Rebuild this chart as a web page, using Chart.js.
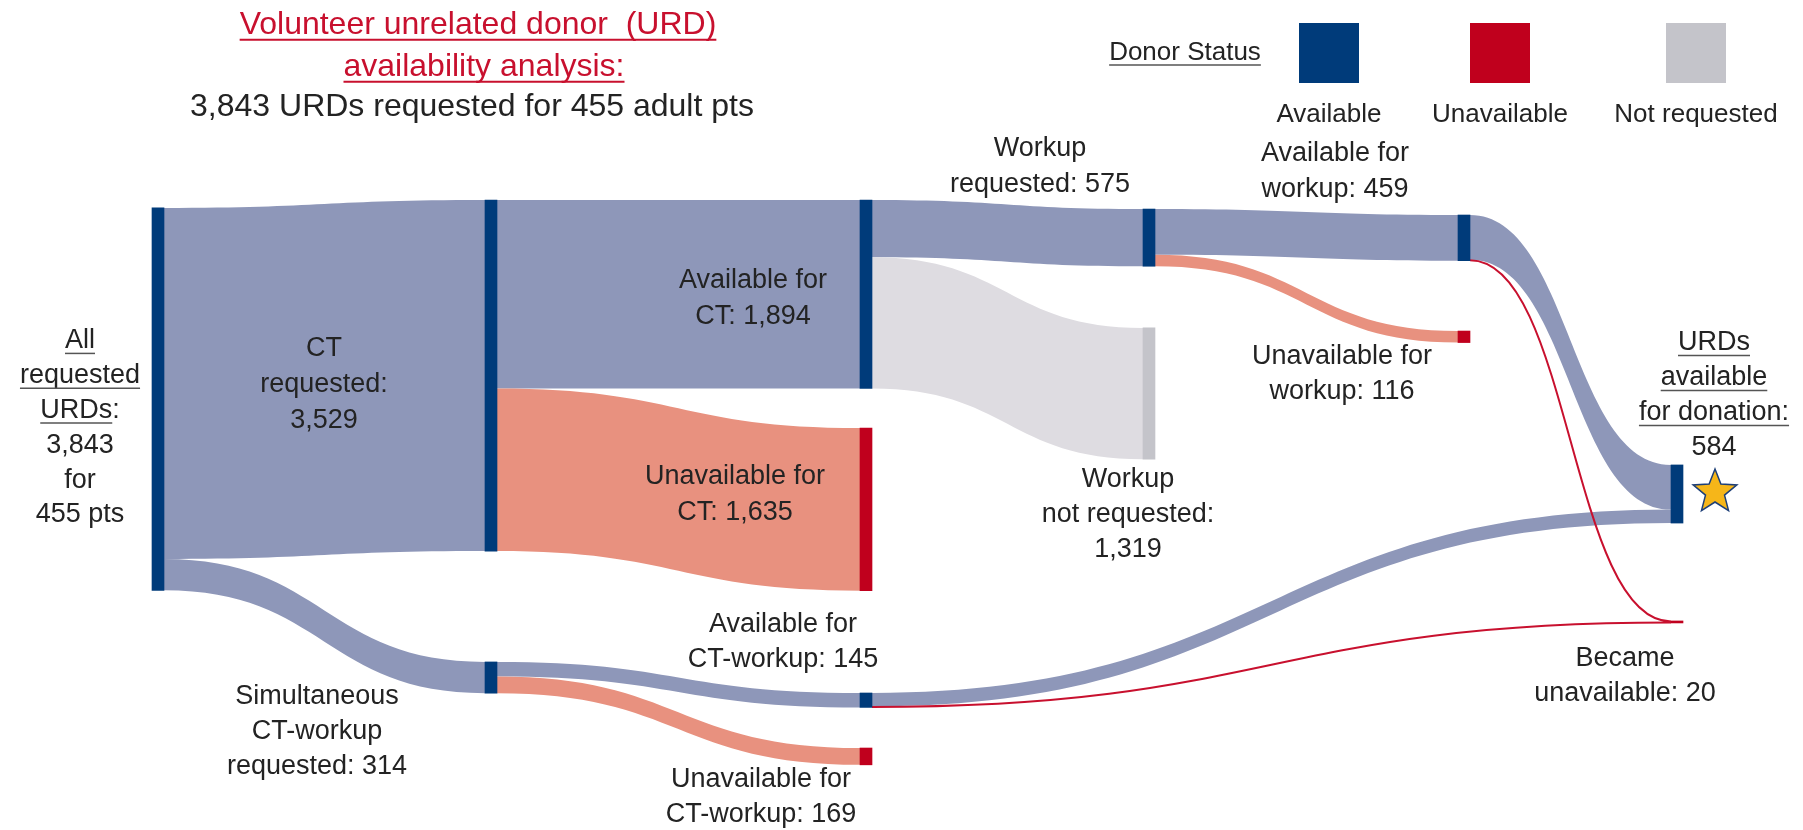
<!DOCTYPE html>
<html>
<head>
<meta charset="utf-8">
<script src="https://cdn.jsdelivr.net/npm/chart.js@4.4.0/dist/chart.umd.min.js"></script>
<style>
    html, body { margin: 0; padding: 0; background: #fff; }
</style>
</head>
<body>
<canvas id="urdSankey" width="1803" height="830"></canvas>
<script>
// nodes of the donor flow
const nodeNames = ['All requested URDs', 'CT requested', 'Simultaneous CT-workup requested',
    'Available for CT', 'Unavailable for CT', 'Available for CT-workup', 'Unavailable for CT-workup',
    'Workup requested', 'Workup not requested', 'Available for workup', 'Unavailable for workup',
    'URDs available for donation', 'Became unavailable'];
const nodeStatus = ['available', 'available', 'available', 'available', 'unavailable', 'available', 'unavailable',
    'available', 'notRequested', 'available', 'unavailable', 'available', 'unavailable'];

// flows between nodes (index into nodeNames)
const flowFrom = [0, 0, 1, 1, 2, 2, 3, 3, 7, 7, 9, 9, 5, 5];
const flowTo = [1, 2, 3, 4, 5, 6, 7, 8, 9, 10, 11, 12, 11, 12];
const flowValues = [3529, 314, 1894, 1635, 145, 169, 575, 1319, 459, 116, 449, 10, 135, 10];

const patientCount = 455;
const legendLabels = ['Available', 'Unavailable', 'Not requested'];
const legendStatus = ['available', 'unavailable', 'notRequested'];

// layout: column of each node and where the node starts on the (donor count) y axis
const nodeColumn = [0, 1, 1, 2, 2, 2, 2, 3, 3, 4, 4, 5, 5];
const columnX = [158, 491, 866, 1149, 1464, 1677];
const nodeTop = [2090, 2010, 6653, 2010, 4302, 6965, 7518, 2101, 3296, 2161, 3327, 4673, 6241];

const FONT = "'Liberation Sans', Arial, Helvetica, sans-serif";
const TEXT = '#232323';
const TITLE_RED = '#c8102e';
const UNDERLINE = '#555';

const nodeColor = { available: '#003b7a', unavailable: '#c0001d', notRequested: '#c4c4ca' };
const flowColor = { available: '#8e97b9', unavailable: '#e8917f', notRequested: '#dedce1' };

const fmt = v => v.toLocaleString('en-US');

// node size = larger of inflow / outflow
const nodeValues = nodeNames.map((_, i) => {
    let inSum = 0, outSum = 0;
    flowValues.forEach((v, k) => {
        if (flowTo[k] === i) inSum += v;
        if (flowFrom[k] === i) outSum += v;
    });
    return Math.max(inSum, outSum);
});

const nodeBars = nodeNames.map((_, i) => ({
    x: columnX[nodeColumn[i]],
    y: [nodeTop[i], nodeTop[i] + nodeValues[i]]
}));

// text blocks; _word_ means underlined
const labelBlocks = [
    { x: 80, y: 341, step: 34.8, lines: ['_All_', '_requested_', '_URDs_:', fmt(nodeValues[0]), 'for', patientCount + ' pts'] },
    { x: 324, y: 349, step: 36, lines: ['CT', 'requested:', fmt(nodeValues[1])] },
    { x: 753, y: 281, step: 36, lines: ['Available for', 'CT: ' + fmt(nodeValues[3])] },
    { x: 735, y: 477, step: 36, lines: ['Unavailable for', 'CT: ' + fmt(nodeValues[4])] },
    { x: 317, y: 697, step: 35, lines: ['Simultaneous', 'CT-workup', 'requested: ' + fmt(nodeValues[2])] },
    { x: 783, y: 625, step: 35, lines: ['Available for', 'CT-workup: ' + fmt(nodeValues[5])] },
    { x: 761, y: 780, step: 35, lines: ['Unavailable for', 'CT-workup: ' + fmt(nodeValues[6])] },
    { x: 1040, y: 149, step: 36, lines: ['Workup', 'requested: ' + fmt(nodeValues[7])] },
    { x: 1128, y: 480, step: 35, lines: ['Workup', 'not requested:', fmt(nodeValues[8])] },
    { x: 1335, y: 154, step: 36, lines: ['Available for', 'workup: ' + fmt(nodeValues[9])] },
    { x: 1342, y: 357, step: 35, lines: ['Unavailable for', 'workup: ' + fmt(nodeValues[10])] },
    { x: 1714, y: 343, step: 35, lines: ['_URDs_', '_available_', '_for donation:_', fmt(nodeValues[11])] },
    { x: 1625, y: 659, step: 35, lines: ['Became', 'unavailable: ' + fmt(nodeValues[12])] }
];

function drawLine(ctx, text, cx, cy, size, color, ulColor, ulWidth) {
    const parts = text.split('_');
    ctx.font = size + 'px ' + FONT;
    ctx.textAlign = 'left';
    const total = parts.reduce((s, p) => s + ctx.measureText(p).width, 0);
    let x = cx - total / 2;
    parts.forEach((p, i) => {
        const w = ctx.measureText(p).width;
        ctx.fillStyle = color;
        ctx.fillText(p, x, cy);
        if (i % 2 === 1) {
            ctx.strokeStyle = ulColor;
            ctx.lineWidth = ulWidth;
            ctx.beginPath();
            ctx.moveTo(x, cy + size * 0.46);
            ctx.lineTo(x + w, cy + size * 0.46);
            ctx.stroke();
        }
        x += w;
    });
}

function drawStar(ctx, cx, cy, rOut, rIn) {
    ctx.beginPath();
    for (let i = 0; i < 10; i++) {
        const r = i % 2 === 0 ? rOut : rIn;
        const a = -Math.PI / 2 + i * Math.PI / 5;
        const px = cx + r * Math.cos(a), py = cy + r * Math.sin(a);
        if (i === 0) ctx.moveTo(px, py); else ctx.lineTo(px, py);
    }
    ctx.closePath();
    ctx.fillStyle = '#f6b619';
    ctx.fill();
    ctx.strokeStyle = '#1d3f78';
    ctx.lineWidth = 1.5;
    ctx.stroke();
}

const sankeyFlows = {
    id: 'sankeyFlows',
    beforeDatasetsDraw(chart) {
        const ctx = chart.ctx;
        const yScale = chart.scales.y;
        const bars = chart.getDatasetMeta(0).data;
        const thick = v => Math.abs(yScale.getPixelForValue(v) - yScale.getPixelForValue(0));
        const outOff = bars.map(() => 0);
        const inOff = bars.map(() => 0);
        const lines = [];
        ctx.save();
        flowValues.forEach((v, k) => {
            const s = bars[flowFrom[k]], t = bars[flowTo[k]];
            const h = thick(v);
            const x0 = s.x + s.width / 2, x1 = t.x - t.width / 2;
            const y0 = Math.min(s.y, s.base) + outOff[flowFrom[k]];
            const y1 = Math.min(t.y, t.base) + inOff[flowTo[k]];
            outOff[flowFrom[k]] += h;
            inOff[flowTo[k]] += h;
            const xm = (x0 + x1) / 2;
            if (nodeNames[flowTo[k]] === 'Became unavailable') {
                lines.push({ x0, x1, xm, y0: y0 + h / 2, y1: y1 + h / 2 });
                return;
            }
            ctx.fillStyle = flowColor[nodeStatus[flowTo[k]]];
            ctx.beginPath();
            ctx.moveTo(x0, y0);
            ctx.bezierCurveTo(xm, y0, xm, y1, x1, y1);
            ctx.lineTo(x1, y1 + h);
            ctx.bezierCurveTo(xm, y1 + h, xm, y0 + h, x0, y0 + h);
            ctx.closePath();
            ctx.fill();
        });
        // donors who became unavailable: thin red lines on top
        ctx.strokeStyle = TITLE_RED;
        ctx.lineWidth = 2;
        lines.forEach(l => {
            ctx.beginPath();
            ctx.moveTo(l.x0, l.y0);
            ctx.bezierCurveTo(l.xm, l.y0, l.xm, l.y1, l.x1, l.y1);
            ctx.stroke();
        });
        ctx.restore();
    },
    afterDraw(chart) {
        const ctx = chart.ctx;
        const bars = chart.getDatasetMeta(0).data;
        ctx.save();
        ctx.textBaseline = 'middle';

        // title
        drawLine(ctx, '_Volunteer unrelated donor  (URD)_', 478, 25, 32, TITLE_RED, TITLE_RED, 2);
        drawLine(ctx, '_availability analysis:_', 484, 67, 32, TITLE_RED, TITLE_RED, 2);
        drawLine(ctx, fmt(nodeValues[0]) + ' URDs requested for ' + patientCount + ' adult pts', 472, 107, 32, TEXT);

        // legend
        drawLine(ctx, '_Donor Status_', 1185, 53, 26, TEXT, UNDERLINE, 1.5);
        const legendX = [1329, 1500, 1696];
        legendStatus.forEach((st, i) => {
            ctx.fillStyle = nodeColor[st];
            ctx.fillRect(legendX[i] - 30, 23, 60, 60);
            drawLine(ctx, legendLabels[i], legendX[i], 115, 26, TEXT);
        });

        // node labels
        labelBlocks.forEach(b => {
            b.lines.forEach((ln, i) => drawLine(ctx, ln, b.x, b.y + i * b.step, 27, TEXT, UNDERLINE, 1.5));
        });

        // star next to final node
        const fin = bars[11];
        drawStar(ctx, fin.x + 38, (fin.y + fin.base) / 2 - 2, 23, 10);
        ctx.restore();
    }
};

new Chart(document.getElementById('urdSankey'), {
    type: 'bar',
    data: {
        datasets: [{
            data: nodeBars,
            backgroundColor: nodeStatus.map(s => nodeColor[s]),
            barThickness: 12,
            borderWidth: 0
        }]
    },
    options: {
        responsive: false,
        animation: false,
        layout: { padding: 0 },
        plugins: {
            legend: { display: false },
            tooltip: { enabled: false }
        },
        scales: {
            x: { type: 'linear', min: 0, max: 1803, offset: false, display: false },
            y: { type: 'linear', min: 0, max: 8342, reverse: true, display: false }
        }
    },
    plugins: [sankeyFlows]
});
</script>
</body>
</html>
